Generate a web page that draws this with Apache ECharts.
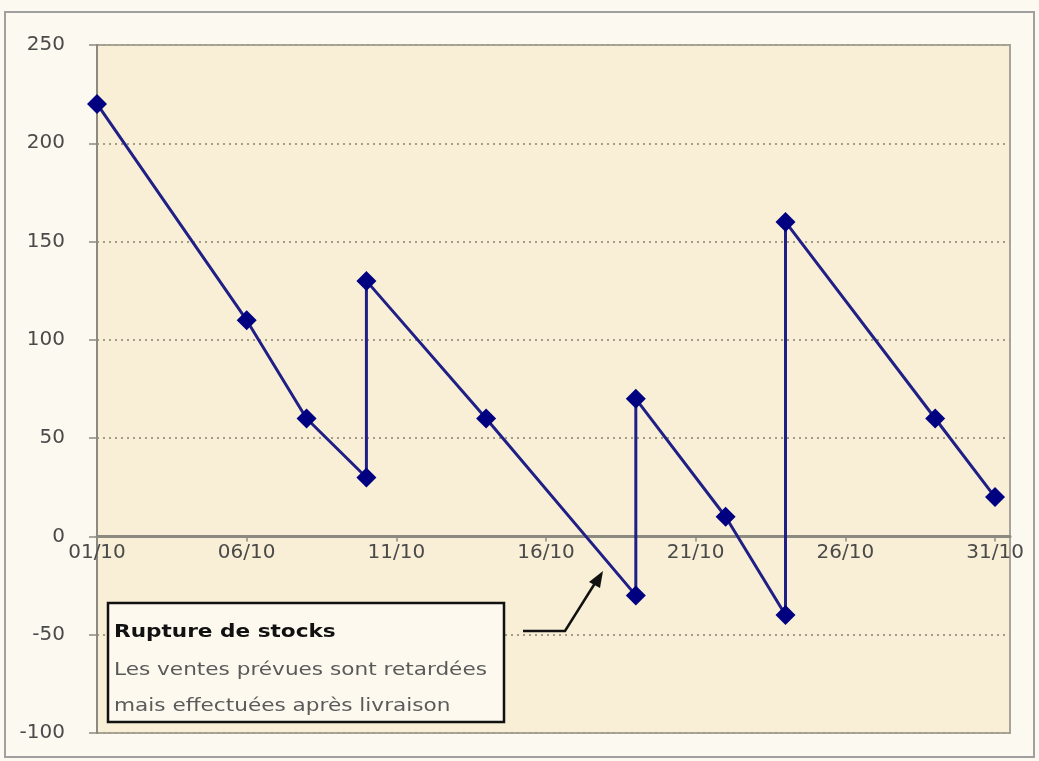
<!DOCTYPE html>
<html>
<head>
<meta charset="utf-8">
<script src="https://cdn.jsdelivr.net/npm/echarts@6/dist/echarts.min.js"></script>
<style>
html,body{margin:0;padding:0;background:#fcfaf0;}
#c{width:1039px;height:761px;}
</style>
</head>
<body>
<div id="c"></div>
<script>
// Day of October for each point (vertical jumps = deliveries)
var days = [1, 6, 8, 10, 10, 14, 19, 19, 22, 24, 24, 29, 31];
// Stock level
var stock = [220, 110, 60, 30, 130, 60, -30, 70, 10, -40, 160, 60, 20];
// X tick labels (every 5 days starting at 01/10)
var xTickLabels = ['01/10', '06/10', '11/10', '16/10', '21/10', '26/10', '31/10'];
var yTicks = [-100, -50, 0, 50, 100, 150, 200, 250];

var noteTitle = 'Rupture de stocks';
var noteLines = ['Les ventes prévues sont retardées', 'mais effectuées après livraison'];

var chart = echarts.init(document.getElementById('c'));
var seriesData = days.map(function (d, i) { return [d - 1, stock[i]]; });
var font = 'DejaVu Sans';

var gridTop = 45, gridBottom = 28;
var yMin = yTicks[0], yMax = yTicks[yTicks.length - 1];
var gridH = 761 - gridTop - gridBottom;
// place the x axis (line, ticks and labels) on the value 0
var zeroOffset = -(0 - yMin) / (yMax - yMin) * gridH;

chart.setOption({
  backgroundColor: '#fcfaf0',
  animation: false,
  grid: { left: 97, right: 29, top: gridTop, bottom: gridBottom, show: true, backgroundColor: '#f9eed6', borderColor: '#a8a49a', borderWidth: 2 },
  xAxis: {
    type: 'value',
    min: 0, max: 30.5, interval: 5,
    offset: zeroOffset,
    axisLine: { onZero: false, lineStyle: { color: '#8c8a80', width: 3 } },
    axisTick: { show: true, length: 5, inside: false, lineStyle: { color: '#8c8a80', width: 1.5 } },
    axisLabel: {
      showMaxLabel: false,
      margin: 6,
      color: '#4a4a4a', fontFamily: font, fontSize: 20,
      formatter: function (v) { var k = Math.round(v / 5); return xTickLabels[k] || ''; }
    },
    splitLine: { show: false },
    z: 4
  },
  yAxis: {
    type: 'value',
    min: yMin, max: yMax, interval: 50,
    axisLine: { show: true, lineStyle: { color: '#8c8a80', width: 2 } },
    axisTick: { show: true, length: 8, lineStyle: { color: '#8c8a80', width: 1.5 } },
    axisLabel: { margin: 32, color: '#4a4a4a', fontFamily: font, fontSize: 20 },
    splitLine: { show: true, lineStyle: { color: '#a39c86', width: 2, type: [2, 4] } }
  },
  series: [{
    type: 'line',
    data: seriesData,
    symbol: 'diamond',
    symbolSize: 20,
    lineStyle: { color: '#1f1f86', width: 3 },
    itemStyle: { color: '#000080' },
    z: 5
  }],
  graphic: [
    { type: 'rect', shape: { x: 5, y: 12, width: 1029, height: 745 }, style: { fill: null, stroke: '#a0a0a0', lineWidth: 2 }, z: -10, silent: true },
    { type: 'rect', shape: { x: 108, y: 603, width: 396, height: 119 }, style: { fill: '#fdf9ef', stroke: '#111', lineWidth: 2.5 }, z: 20 },
    { type: 'text', x: 114, y: 632, scaleX: 1.2, style: { text: noteTitle, fill: '#111', font: 'bold 18px "' + font + '"', textVerticalAlign: 'middle' }, z: 21 },
    { type: 'text', x: 114, y: 670, scaleX: 1.2, style: { text: noteLines[0], fill: '#5a5a5a', font: '18px "' + font + '"', textVerticalAlign: 'middle' }, z: 21 },
    { type: 'text', x: 114, y: 706, scaleX: 1.2, style: { text: noteLines[1], fill: '#5a5a5a', font: '18px "' + font + '"', textVerticalAlign: 'middle' }, z: 21 },
    { type: 'polyline', shape: { points: [[523, 631], [565, 631], [597, 580]] }, style: { stroke: '#111', lineWidth: 2.5, fill: null }, z: 21 },
    { type: 'polygon', shape: { points: [[603, 571], [589, 582], [600, 588]] }, style: { fill: '#111' }, z: 21 }
  ]
});
</script>
</body>
</html>
